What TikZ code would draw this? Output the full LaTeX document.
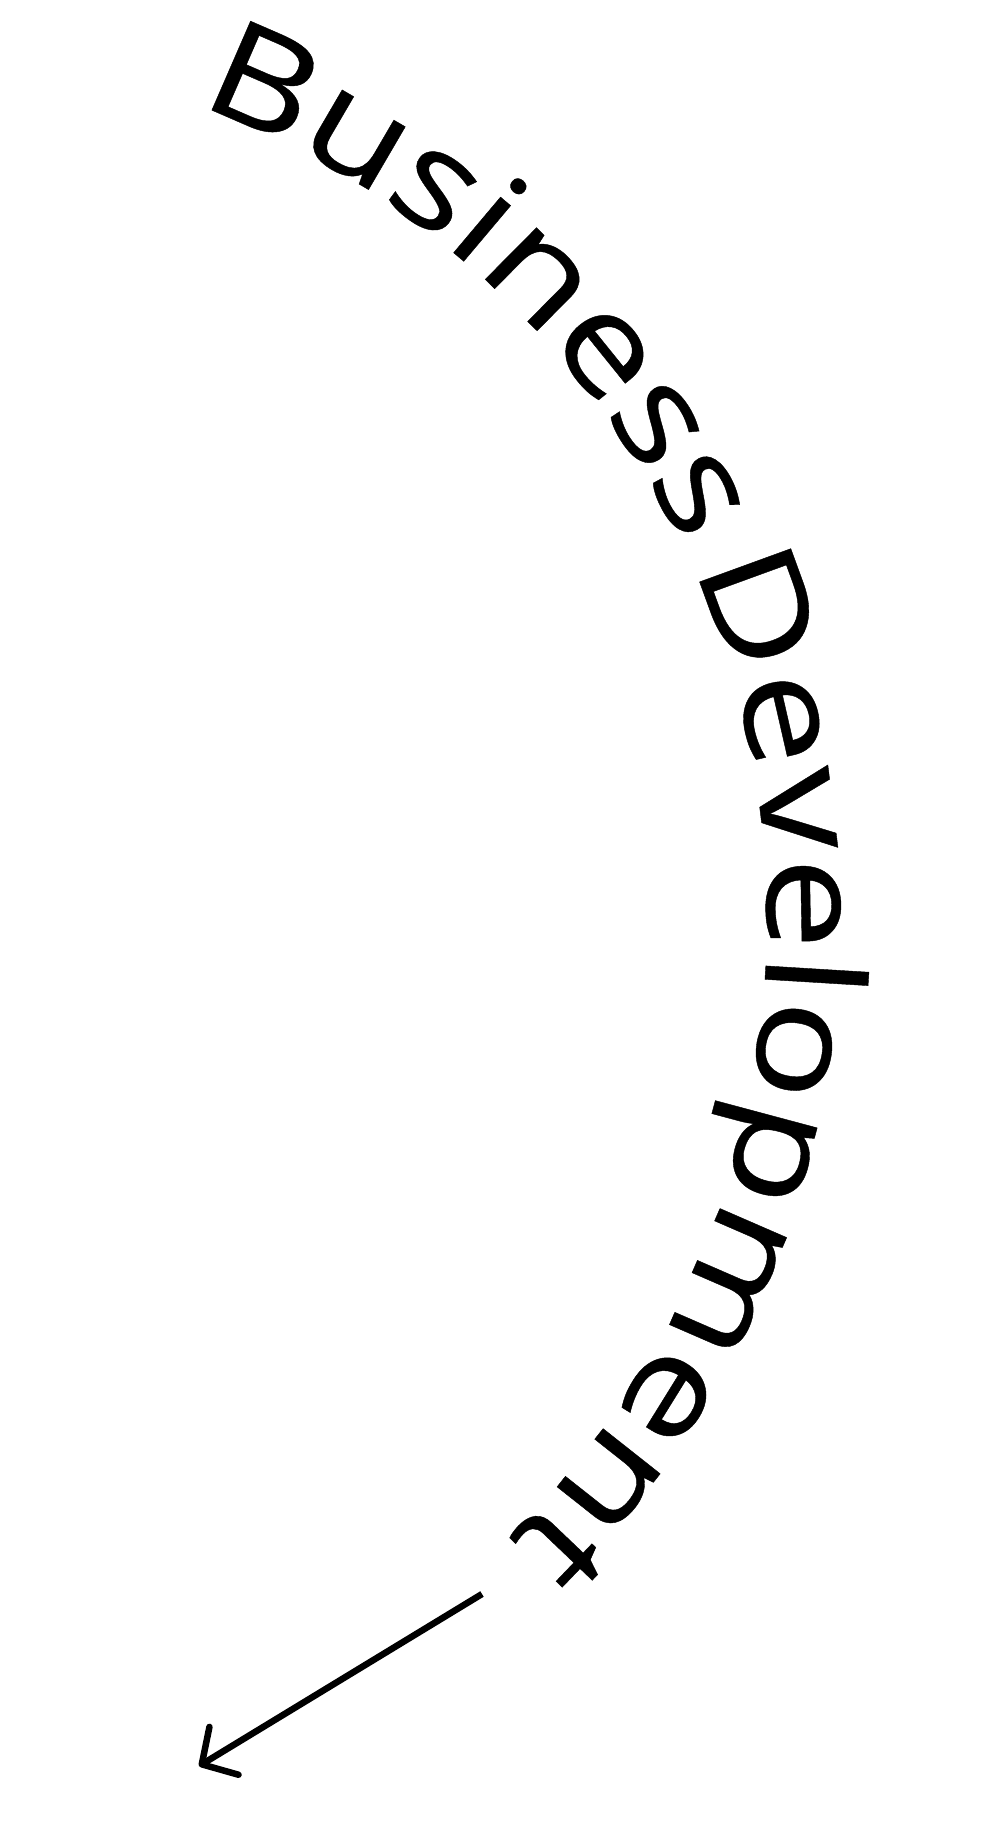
\documentclass[tikz,border=0pt]{standalone}
\usepackage{fontspec}
\newfontfamily\bdfont[FakeStretch=1.2,FakeBold=0.3]{Open Sans}
\newfontfamily\bdfontwide[FakeStretch=1.22,FakeBold=0.3]{Open Sans}
\usetikzlibrary{decorations.text,arrows.meta}
\tikzset{
  arctext/.style={decorate,decoration={text along path,text align=#1}},
  arcfont/.style={decoration={text={|\bdfont\fontsize{136pt}{140pt}\selectfont|#1}}},
  arcfontwide/.style={decoration={text={|\bdfontwide\fontsize{136pt}{140pt}\selectfont|#1}}},
  bigarrow/.style={draw=black,line width=6.5pt,-{Straight Barb[length=26pt,width=56pt,round]}}
}
\begin{document}
\begin{tikzpicture}[x=1pt,y=1pt]
\useasboundingbox (0,0) rectangle (988,-1825);
\coordinate (center) at (-100,-920);
\path[arctext=left,arcfont={Business}] (center) ++(70:867) arc[start angle=70,end angle=20,radius=867];
\path[arctext=fit to path,arcfontwide={Development}] (center) ++(24:867) arc[start angle=24,end angle=-45.6,radius=867];
\coordinate (arrowstart) at (482,-1594);
\coordinate (arrowend) at (199,-1766);
\draw[bigarrow] (arrowstart) -- (arrowend);
\end{tikzpicture}
\end{document}
